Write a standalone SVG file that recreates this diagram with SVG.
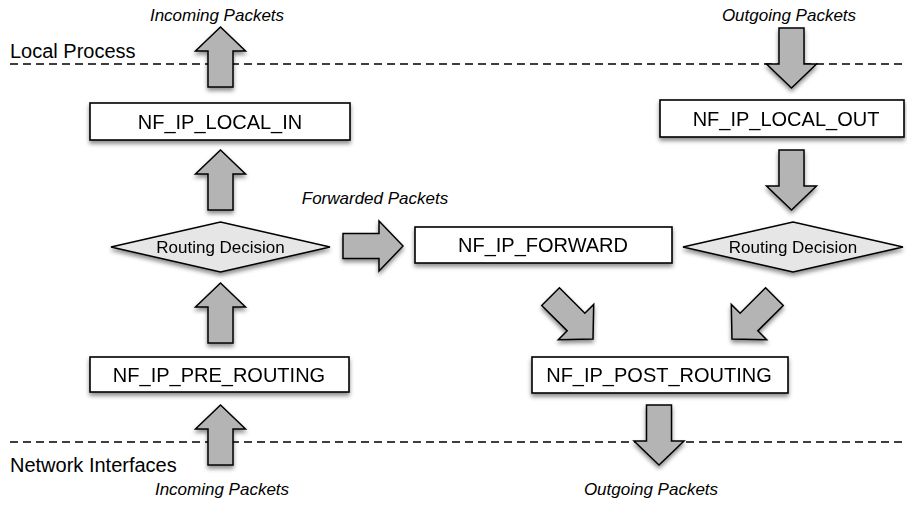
<svg xmlns="http://www.w3.org/2000/svg" width="907" height="505" viewBox="0 0 907 505">
  <style>
    .bg { fill: #ffffff; }
    .layer { stroke: #000; stroke-width: 1.5; stroke-dasharray: 8 5; fill: none; }
    .zone { font-family: "Liberation Sans", Arial, sans-serif; font-size: 20px; fill: #000; }
    .flow { font-family: "Liberation Sans", Arial, sans-serif; font-size: 17px; font-style: italic; fill: #000; text-anchor: middle; }
    .hook rect { fill: #ffffff; stroke: #000; stroke-width: 1.6; }
    .hook text { font-family: "Liberation Sans", Arial, sans-serif; font-size: 20px; fill: #000; text-anchor: middle; }
    .decision polygon { fill: #e6e6e6; stroke: #000; stroke-width: 1.4; }
    .decision text { font-family: "Liberation Sans", Arial, sans-serif; font-size: 17px; fill: #000; text-anchor: middle; }
    .arrow { fill: #b4b4b4; stroke: #000; stroke-width: 1.5; stroke-linejoin: miter; }
  </style>
  <defs>
    <filter id="shadow" x="-20%" y="-20%" width="140%" height="150%">
      <feDropShadow dx="0" dy="3" stdDeviation="2" flood-color="#000" flood-opacity="0.45"/>
    </filter>
    <!-- block arrow pointing up, tip at the origin -->
    <path id="blockArrow" d="M0,0 L25,24 L12.5,24 L12.5,60 L-12.5,60 L-12.5,24 L-25,24 Z"/>
  </defs>

  <rect class="bg" x="0" y="0" width="907" height="505"/>

  <!-- layer boundaries -->
  <g id="layers">
    <line class="layer" x1="10" y1="64" x2="907" y2="64"/>
    <line class="layer" x1="10" y1="442" x2="907" y2="442"/>
    <text class="zone" x="10" y="58">Local Process</text>
    <text class="zone" x="10" y="472">Network Interfaces</text>
  </g>

  <!-- packet flow labels -->
  <g id="flow-labels">
    <text class="flow" x="217" y="21">Incoming Packets</text>
    <text class="flow" x="789" y="21">Outgoing Packets</text>
    <text class="flow" x="375" y="204">Forwarded Packets</text>
    <text class="flow" x="222" y="495">Incoming Packets</text>
    <text class="flow" x="651" y="495">Outgoing Packets</text>
  </g>

  <!-- connectors -->
  <g id="connectors" class="arrow" filter="url(#shadow)">
    <use href="#blockArrow" transform="translate(220.5,27)"/>
    <use href="#blockArrow" transform="translate(220.5,150)"/>
    <use href="#blockArrow" transform="translate(220.5,283)"/>
    <use href="#blockArrow" transform="translate(220.5,405)"/>
    <use href="#blockArrow" transform="translate(403,246) rotate(90)"/>
    <use href="#blockArrow" transform="translate(791.5,88) rotate(180)"/>
    <use href="#blockArrow" transform="translate(791.5,210) rotate(180)"/>
    <use href="#blockArrow" transform="translate(593,339) rotate(135)"/>
    <use href="#blockArrow" transform="translate(732,339) rotate(-135)"/>
    <use href="#blockArrow" transform="translate(659,465) rotate(180)"/>
  </g>

  <!-- hooks -->
  <g id="local-in" class="hook">
    <rect x="90" y="103" width="260" height="37" filter="url(#shadow)"/>
    <text x="220" y="128.5">NF_IP_LOCAL_IN</text>
  </g>
  <g id="local-out" class="hook">
    <rect x="660" y="100" width="244" height="37" filter="url(#shadow)"/>
    <text x="786" y="125.5">NF_IP_LOCAL_OUT</text>
  </g>
  <g id="forward" class="hook">
    <rect x="415" y="227" width="257" height="36" filter="url(#shadow)"/>
    <text x="543" y="252">NF_IP_FORWARD</text>
  </g>
  <g id="pre-routing" class="hook">
    <rect x="90" y="357" width="259" height="35" filter="url(#shadow)"/>
    <text x="219" y="381.5">NF_IP_PRE_ROUTING</text>
  </g>
  <g id="post-routing" class="hook">
    <rect x="532" y="357" width="256" height="36" filter="url(#shadow)"/>
    <text x="659" y="382">NF_IP_POST_ROUTING</text>
  </g>

  <!-- routing decisions -->
  <g id="routing-in" class="decision">
    <polygon points="111,247 220.5,222 330,247 220.5,272" filter="url(#shadow)"/>
    <text x="220.5" y="252.5">Routing Decision</text>
  </g>
  <g id="routing-out" class="decision">
    <polygon points="683,247 793,222 903,247 793,272" filter="url(#shadow)"/>
    <text x="793" y="252.5">Routing Decision</text>
  </g>
</svg>
